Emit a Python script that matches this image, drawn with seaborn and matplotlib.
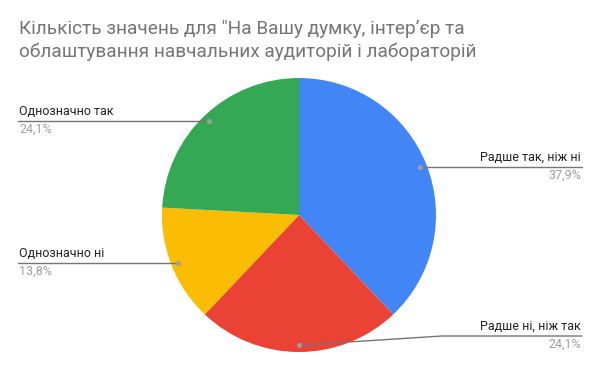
import numpy as np
import matplotlib
matplotlib.use("Agg")
import matplotlib.pyplot as plt
import seaborn as sns

sns.set_theme(style="white")
plt.rcParams['font.family'] = ['Roboto', 'DejaVu Sans']

title = 'Кількість значень для "На Вашу думку, інтер’єр та\nоблаштування навчальних аудиторій і лабораторій'
categories = ["Радше так, ніж ні", "Радше ні, ніж так", "Однозначно ні", "Однозначно так"]
values = [11, 7, 4, 7]
pct_labels = ["37,9%", "24,1%", "13,8%", "24,1%"]
colors = ["#4285f4", "#ea4335", "#fbbc04", "#34a853"]

W, H = 600, 371
fig = plt.figure(figsize=(6.0, 3.71), dpi=100)
ax = fig.add_axes([0, 0, 1, 1])
ax.set_xlim(0, W)
ax.set_ylim(0, H)
ax.set_aspect('equal')
ax.axis('off')

cx, cy, r = 299, H - 215, 137
ax.pie(values, colors=colors, startangle=90, counterclock=False,
       center=(cx, cy), radius=r, frame=True,
       wedgeprops=dict(linewidth=0))
ax.set_xlim(0, W)
ax.set_ylim(0, H)
ax.axis('off')

fig.text(19 / W, 1 - 20 / H, title, ha='left', va='top', fontsize=13.7,
         color='#757575', linespacing=1.3)

# label layout: (side, text y in px from top)
layout = {
    0: ('right', 167),
    1: ('right', 336),
    2: ('left', 263),
    3: ('left', 121),
}
total = sum(values)
cum = 0
for i, v in enumerate(values):
    mid = (cum + v / 2) / total
    cum += v
    ang = np.deg2rad(90 - mid * 360)
    dx, dy = cx + 0.95 * r * np.cos(ang), cy + 0.95 * r * np.sin(ang)
    side, ly = layout[i]
    ly = H - ly
    if side == 'right':
        xe = 582
        if abs(dy - ly) > 3:
            ax.plot([dx, 442, xe], [dy, ly, ly], color='#757575', lw=1, zorder=5)
        else:
            ax.plot([dx, xe], [ly, ly], color='#757575', lw=1, zorder=5)
        ax.text(xe - 1, ly + 3, categories[i], ha='right', va='bottom', fontsize=9, color='#222222')
        ax.text(xe - 1, ly - 2, pct_labels[i], ha='right', va='top', fontsize=9, color='#9e9e9e')
    else:
        xs = 18
        ax.plot([xs, dx], [ly, ly], color='#757575', lw=1, zorder=5)
        ax.text(xs + 1, ly + 3, categories[i], ha='left', va='bottom', fontsize=9, color='#222222')
        ax.text(xs + 1, ly - 2, pct_labels[i], ha='left', va='top', fontsize=9, color='#9e9e9e')
    ax.plot([dx], [dy if side == 'right' and abs(dy - ly) > 3 else ly], 'o', ms=3.5,
            color='#9e9e9e', zorder=6, markeredgewidth=0)

fig.savefig("out.png", dpi=100, facecolor='white')
